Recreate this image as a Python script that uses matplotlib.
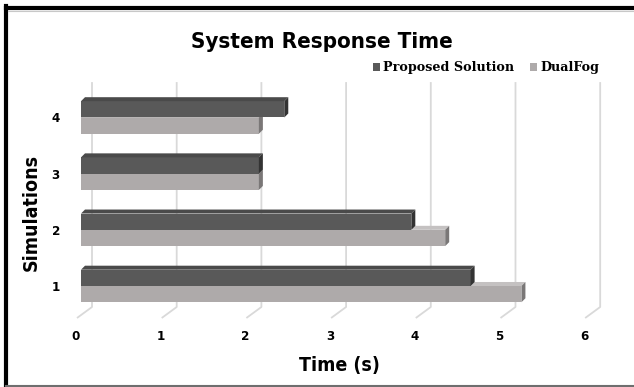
import matplotlib
matplotlib.use("Agg")
import matplotlib.pyplot as plt
import matplotlib.transforms as mtransforms
from matplotlib.patches import Polygon, Patch
from matplotlib.lines import Line2D

# ---- data ----
simulations = ["1", "2", "3", "4"]
proposed = [4.6, 3.9, 2.1, 2.4]
dualfog = [5.2, 4.3, 2.1, 2.1]
x_ticks = [0, 1, 2, 3, 4, 5, 6]
series_names = ["Proposed Solution", "DualFog"]

NARROW = ["DejaVu Sans"]
SERIF = ["DejaVu Serif"]
STRETCH = "condensed"

W, H = 634, 387
fig = plt.figure(figsize=(W / 100, H / 100), dpi=100)

# plot area in pixels (top-left origin)
AX_L, AX_R, AX_T, AX_B = 64.06, 623.06, 82.1, 318.0
XMIN, XMAX = -0.2, 6.4
YMIN, YMAX = -0.57, 3.63
ax = fig.add_axes([AX_L / W, (H - AX_B) / H, (AX_R - AX_L) / W, (AX_B - AX_T) / H])
ax.set_xlim(XMIN, XMAX)
ax.set_ylim(YMIN, YMAX)
for s in ax.spines.values():
    s.set_visible(False)

px_x = (AX_R - AX_L) / (XMAX - XMIN)
px_y = (AX_B - AX_T) / (YMAX - YMIN)

# pseudo-3D depth (pixels)
FLOOR_DX_BACK, FLOOR_DX_FRONT, FLOOR_DY = 11, -4, 11
BEVEL = 4
ddx, ddy = BEVEL / px_x, BEVEL / px_y

# back wall gridlines with floor slants
y_floor_back = YMIN + FLOOR_DY / px_y
for t in x_ticks:
    xb = t + FLOOR_DX_BACK / px_x
    xf = t + FLOOR_DX_FRONT / px_x
    ax.plot([xb, xb, xf], [YMAX, y_floor_back, YMIN], color="#d9d9d9",
            lw=1.3, zorder=0, clip_on=False, solid_capstyle="butt")

h = 0.29
off = 0.145
ypos = list(range(len(simulations)))

def bar3d(yc, v, front, top, side, z):
    ax.barh(yc, v, height=h, color=front, zorder=z, linewidth=0)
    y0, y1 = yc - h / 2, yc + h / 2
    ax.add_patch(Polygon([(0, y1), (v, y1), (v + ddx, y1 + ddy), (ddx, y1 + ddy)],
                         closed=True, facecolor=top, edgecolor="none", zorder=z))
    ax.add_patch(Polygon([(v, y0), (v + ddx, y0 + ddy), (v + ddx, y1 + ddy), (v, y1)],
                         closed=True, facecolor=side, edgecolor="none", zorder=z))

for i, (p, d) in enumerate(zip(proposed, dualfog)):
    bar3d(ypos[i] - off, d, "#aeaaaa", "#c4c1c1", "#7a7777", 2)
    bar3d(ypos[i] + off, p, "#595959", "#4a4a4a", "#333333", 3)

# ticks
ax.set_xticks(x_ticks)
ax.set_xticklabels([str(t) for t in x_ticks], fontfamily=NARROW, fontstretch=STRETCH,
                   fontweight="bold", fontsize=9.5)
ax.tick_params(axis="x", length=0, pad=9)
shift = mtransforms.ScaledTranslation(-0.05, 0, fig.dpi_scale_trans)
for lab in ax.get_xticklabels():
    lab.set_transform(lab.get_transform() + shift)

ax.set_yticks(ypos)
ax.set_yticklabels(simulations, fontfamily=NARROW, fontstretch=STRETCH,
                   fontweight="bold", fontsize=9.5)
ax.tick_params(axis="y", length=0, pad=3)

# titles
fig.text(322 / W, 1 - 42 / H, "System Response Time", ha="center", va="center",
         fontfamily=NARROW, fontstretch=STRETCH, fontweight="bold", fontsize=16)
fig.text(339 / W, 1 - 365 / H, "Time (s)", ha="center", va="center",
         fontfamily=NARROW, fontstretch=STRETCH, fontweight="bold", fontsize=14)
fig.text(31 / W, 1 - 212 / H, "Simulations", ha="center", va="center",
         rotation=90, fontfamily=NARROW, fontstretch=STRETCH, fontweight="bold", fontsize=14)

# legend
handles = [Patch(facecolor="#595959"), Patch(facecolor="#aeaaaa")]
fig.legend(handles, series_names, loc="center", bbox_to_anchor=(486 / W, 1 - 68 / H),
           ncol=2, frameon=False, handlelength=0.55, handleheight=0.55,
           handletextpad=0.25, columnspacing=1.2,
           prop={"family": SERIF, "weight": "bold", "size": 9.2})

# outer frame
fig.add_artist(Line2D([6 / W, 6 / W], [0, 1 - 6 / H], transform=fig.transFigure,
                      color="black", lw=3, solid_capstyle="projecting"))
fig.add_artist(Line2D([6 / W, 1], [1 - 8 / H, 1 - 8 / H], transform=fig.transFigure,
                      color="black", lw=3, solid_capstyle="projecting"))
fig.add_artist(Line2D([8 / W, 1], [1 - 10.8 / H, 1 - 10.8 / H], transform=fig.transFigure,
                      color="#c8c8c8", lw=0.8))
fig.add_artist(Line2D([6 / W, 1], [1.2 / H, 1.2 / H], transform=fig.transFigure,
                      color="#6e6e6e", lw=1.5))

fig.savefig("out.png", dpi=100)
